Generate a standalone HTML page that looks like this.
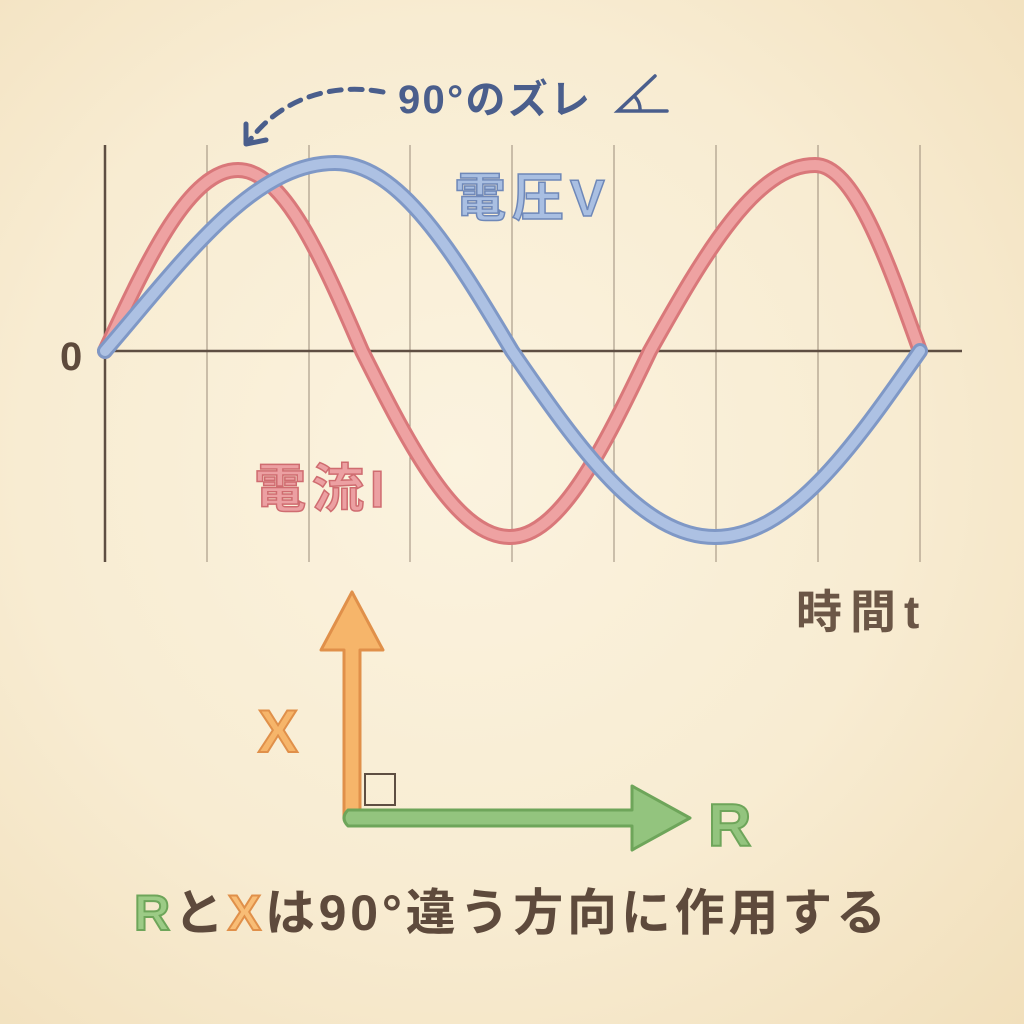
<!DOCTYPE html>
<html><head><meta charset="utf-8"><style>
html,body{margin:0;padding:0;width:1024px;height:1024px;overflow:hidden}
body{background:radial-gradient(ellipse at 45% 45%,#fbf3df 0%,#f8ecd2 55%,#f1dfbb 100%)}
text{font-family:"Liberation Sans","Noto Sans CJK JP",sans-serif;font-weight:bold}
</style></head><body>
<svg width="1024" height="1024" viewBox="0 0 1024 1024" xmlns="http://www.w3.org/2000/svg">
<g stroke="#8a7a6a" stroke-width="1.2" opacity="0.7">
<line x1="207" y1="145" x2="207" y2="562"/><line x1="309" y1="145" x2="309" y2="562"/>
<line x1="410" y1="145" x2="410" y2="562"/><line x1="512" y1="145" x2="512" y2="562"/>
<line x1="614" y1="145" x2="614" y2="562"/><line x1="716" y1="145" x2="716" y2="562"/>
<line x1="818" y1="145" x2="818" y2="562"/><line x1="920" y1="145" x2="920" y2="562"/>
</g>
<line x1="105" y1="145" x2="105" y2="562" stroke="#5e4e42" stroke-width="2.5"/>
<line x1="100" y1="351" x2="962" y2="351" stroke="#5e4e42" stroke-width="2.5"/>
<text x="60" y="370" font-size="40" fill="#5e4a3c" font-weight="normal">0</text>
<g fill="none" stroke-linecap="round">
<path id="red" d="M105,351 C149,256 190,170 238,170 C283,170 321,256 362,351 C411,449 457,537 510,537 C560,537 603,449 650,351 C705,253 756,165 815,165 C853,165 885,253 920,351"/>
<path id="blue" d="M105,351 C182,262 252,163 335,163 C399,163 453,252 512,351 C580,450 642,537 715,537 C789,537 851,450 920,351"/>
<use href="#red" stroke="#d9787a" stroke-width="16"/>
<use href="#red" stroke="#eea2a2" stroke-width="10"/>
<use href="#blue" stroke="#7f98c6" stroke-width="16"/>
<use href="#blue" stroke="#adc1e3" stroke-width="10"/>
</g>
<path d="M383,92 C330,82 280,100 250,140" fill="none" stroke="#4a5e8c" stroke-width="5" stroke-dasharray="12,9" stroke-linecap="round"/>
<path d="M246,124 L246,144 L266,140" fill="none" stroke="#4a5e8c" stroke-width="5" stroke-linecap="round" stroke-linejoin="round"/>
<text x="398" y="113" font-size="40" fill="#4a5e8c" textLength="192">90°のズレ</text>
<path d="M655,76 L618,111 L667,111 M640,111 A18,18 0 0 0 634,96" fill="none" stroke="#4a5e8c" stroke-width="3.5" stroke-linecap="round"/>
<text x="454" y="216" font-size="52" fill="#a9bfe2" stroke="#6f88b8" stroke-width="1.5" letter-spacing="6">電圧V</text>
<text x="254" y="507" font-size="52" fill="#eca0a2" stroke="#cf6c70" stroke-width="1.5" letter-spacing="6">電流I</text>
<text x="796" y="628" font-size="46" fill="#6b5646" font-weight="normal" letter-spacing="8">時間t</text>
<rect x="365" y="774" width="30" height="31" fill="none" stroke="#5e4e42" stroke-width="2"/>
<path d="M344,818 L344,650 L321,650 L352,592 L383,650 L360,650 L360,818 Z" fill="#f6b56a" stroke="#e0904a" stroke-width="3" stroke-linejoin="round"/>
<path d="M348,810 L632,810 L632,786 L690,818 L632,850 L632,826 L348,826 Q340,818 348,810 Z" fill="#93c47e" stroke="#6ea55a" stroke-width="3" stroke-linejoin="round"/>
<text x="258" y="752" font-size="60" fill="#f6b56a" stroke="#e0904a" stroke-width="2" font-weight="normal">X</text>
<text x="708" y="846" font-size="60" fill="#93c47e" stroke="#6ea55a" stroke-width="2" font-weight="normal">R</text>
<text x="134" y="930" font-size="50" textLength="752" fill="#5e4a3c"><tspan fill="#9ccb86" stroke="#6ea55a" stroke-width="2">R</tspan>と<tspan fill="#f8bd76" stroke="#e0904a" stroke-width="2">X</tspan>は90°違う方向に作用する</text>
</svg>
</body></html>
